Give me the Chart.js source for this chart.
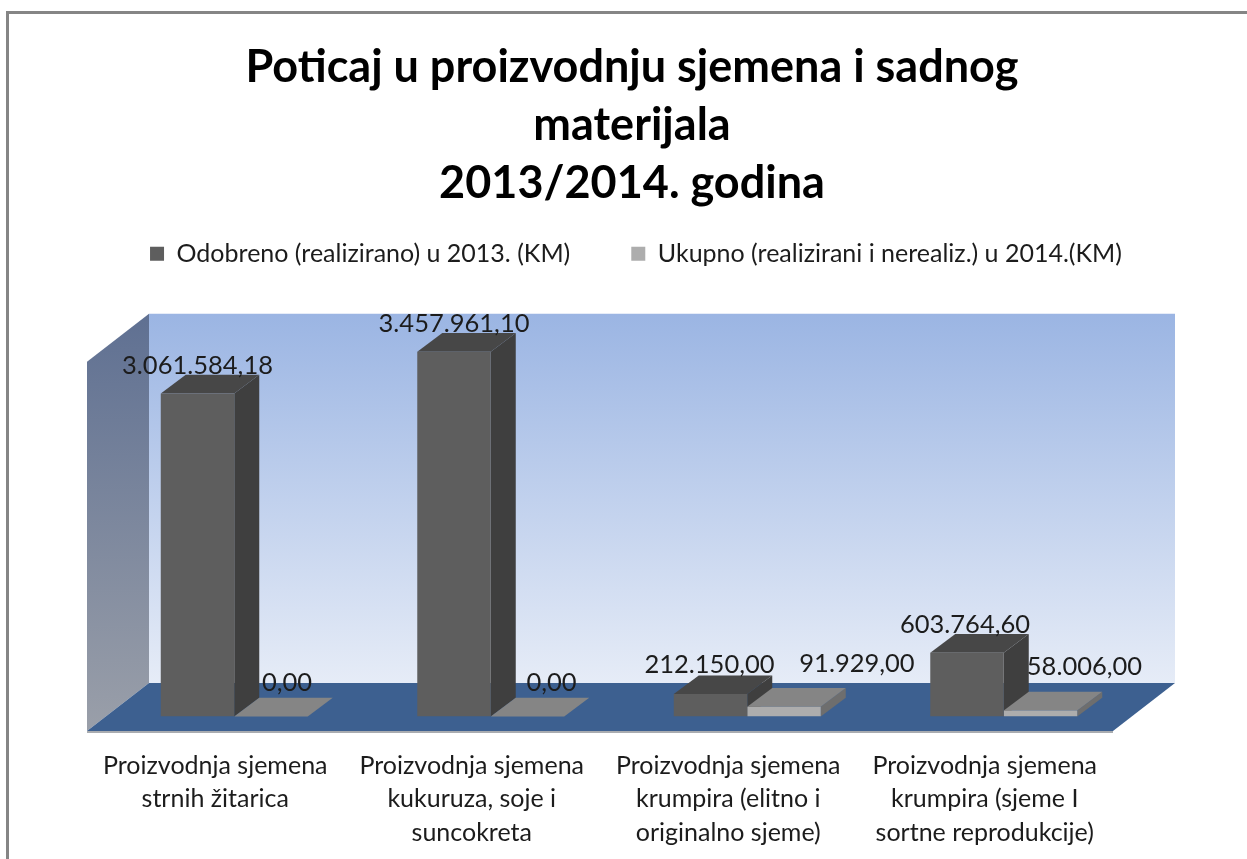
<!DOCTYPE html>
<html>
<head>
<meta charset="utf-8">
<title>Poticaj u proizvodnju sjemena</title>
<script src="https://cdn.jsdelivr.net/npm/chart.js@4"></script>
<style>
    html, body { margin: 0; padding: 0; background: #fff; overflow: hidden; }
    #frame { position: absolute; left: 6px; top: 11px; right: 0; bottom: 0;
             border-left: 3px solid #858585; border-top: 3px solid #858585; }
    canvas { position: absolute; left: 0; top: 0; }
</style>
</head>
<body>
<div id="frame"></div>
<canvas id="chart" width="1247" height="859"></canvas>
<script>
const titleLines = [
    "Poticaj u proizvodnju sjemena i sadnog",
    "materijala",
    "2013/2014. godina"
];
const categories = [
    ["Proizvodnja sjemena", "strnih žitarica"],
    ["Proizvodnja sjemena", "kukuruza, soje i", "suncokreta"],
    ["Proizvodnja sjemena", "krumpira (elitno i", "originalno sjeme)"],
    ["Proizvodnja sjemena", "krumpira (sjeme I", "sortne reprodukcije)"]
];
const seriesNames = [
    "Odobreno (realizirano) u 2013. (KM)",
    "Ukupno (realizirani i nerealiz.) u 2014.(KM)"
];
const approved2013 = [3061584.18, 3457961.10, 212150.00, 603764.60];
const total2014 = [0, 0, 91929.00, 58006.00];

// top of the 3d walls, on the value axis
const wallMax = 3500000;

// depth of the fake 3d, pixels
const barDepth = { x: 25, y: 18.7 };
const backPlane = { x: 43, y: 33.5 };
const frontPlane = { x: 19, y: 14.5 };

const faceColors = [
    { top: "#474747", side: "#3f3f3f" },
    { top: "#858585", side: "#6e6e6e" }
];

// labels were moved by hand in the original, so they sit off their bars
const labelShift = [
    [{ x: 0, y: 28 }, { x: 0, y: 28 }, { x: -1, y: 29 }, { x: -2, y: 28 }],
    [{ x: 16, y: 34 }, { x: 24, y: 34 }, { x: 73, y: 43 }, { x: 44, y: 44 }]
];

function poly(ctx, color, pts) {
    ctx.fillStyle = color;
    ctx.beginPath();
    pts.forEach((p, i) => i ? ctx.lineTo(p[0], p[1]) : ctx.moveTo(p[0], p[1]));
    ctx.closePath();
    ctx.fill();
}

function formatKM(v) {
    return v.toLocaleString("de-DE", { minimumFractionDigits: 2, maximumFractionDigits: 2 });
}

const box3d = {
    id: "box3d",
    afterLayout(chart) {
        chart.legend.left += 4;
        chart.legend.right += 4;
    },
    beforeDatasetsDraw(chart) {
        const ctx = chart.ctx;
        const area = chart.chartArea;
        const y = chart.scales.y;
        const base = y.getPixelForValue(0);
        const top = y.getPixelForValue(wallMax);

        const bl = area.left + backPlane.x, br = area.right + backPlane.x;
        const fl = area.left - frontPlane.x, fr = area.right - frontPlane.x;
        const backBase = base - backPlane.y, backTop = top - backPlane.y;
        const frontBase = base + frontPlane.y, frontTop = top + frontPlane.y;

        // back wall
        const wall = ctx.createLinearGradient(0, backTop, 0, backBase);
        wall.addColorStop(0, "#9bb5e3");
        wall.addColorStop(1, "#e6ecf7");
        poly(ctx, wall, [[bl, backTop], [br, backTop], [br, backBase], [bl, backBase]]);

        // left wall
        const side = ctx.createLinearGradient(0, backTop, 0, frontBase);
        side.addColorStop(0, "#5f7092");
        side.addColorStop(1, "#9a9fa9");
        poly(ctx, side, [[fl, frontTop], [bl, backTop], [bl, backBase], [fl, frontBase]]);

        // floor
        poly(ctx, "#a9acb0", [[fl, frontBase], [fr, frontBase], [fr, frontBase + 2], [fl, frontBase + 2]]);
        poly(ctx, "#3d6090", [[bl, backBase], [br, backBase], [fr, frontBase], [fl, frontBase]]);

        // top and side of every bar
        chart.data.datasets.forEach((ds, i) => {
            chart.getDatasetMeta(i).data.forEach(bar => {
                const x0 = bar.x - bar.width / 2, x1 = bar.x + bar.width / 2;
                const dx = barDepth.x, dy = barDepth.y;
                poly(ctx, faceColors[i].side, [[x1, bar.y], [x1 + dx, bar.y - dy], [x1 + dx, bar.base - dy], [x1, bar.base]]);
                poly(ctx, faceColors[i].top, [[x0, bar.y], [x0 + dx, bar.y - dy], [x1 + dx, bar.y - dy], [x1, bar.y]]);
            });
        });
    },
    afterDatasetsDraw(chart) {
        const ctx = chart.ctx;
        ctx.save();
        ctx.font = "25.5px Lato";
        ctx.fillStyle = "#1c1c1c";
        ctx.textAlign = "center";
        ctx.textBaseline = "middle";
        chart.data.datasets.forEach((ds, i) => {
            chart.getDatasetMeta(i).data.forEach((bar, j) => {
                const s = labelShift[i][j];
                ctx.fillText(formatKM(ds.data[j]), bar.x + s.x, bar.y - s.y);
            });
        });
        ctx.restore();
    }
};

new Chart(document.getElementById("chart"), {
    type: "bar",
    plugins: [box3d],
    data: {
        labels: categories,
        datasets: [
            { label: seriesNames[0], data: approved2013, backgroundColor: "#5e5e5e" },
            { label: seriesNames[1], data: total2014, backgroundColor: "#adadad" }
        ]
    },
    options: {
        responsive: false,
        animation: false,
        categoryPercentage: 0.573,
        barPercentage: 1,
        layout: { padding: { left: 17, right: 0, top: 0, bottom: 0 } },
        plugins: {
            title: {
                display: true,
                text: titleLines,
                color: "#000",
                font: { family: "Lato", size: 45, weight: "bold", lineHeight: 1.28 },
                padding: { top: 39, bottom: 0.5 }
            },
            legend: {
                display: true,
                position: "top",
                labels: {
                    color: "#1c1c1c",
                    font: { family: "Lato", size: 25 },
                    boxWidth: 14,
                    boxHeight: 14,
                    padding: 29,
                    generateLabels(chart) {
                        const items = Chart.defaults.plugins.legend.labels.generateLabels(chart);
                        items[0].text = items[0].text + "     ";
                        return items;
                    }
                }
            },
            tooltip: { enabled: false }
        },
        scales: {
            x: {
                grid: { display: false },
                border: { display: false },
                afterFit(scale) { scale.height = 142.5; },
                ticks: {
                    color: "#1c1c1c",
                    font: { family: "Lato", size: 25, lineHeight: 1.33 },
                    padding: 25,
                    labelOffset: -19,
                    autoSkip: false,
                    maxRotation: 0
                }
            },
            y: {
                min: 0,
                max: 4173000,
                grid: { display: false },
                border: { display: false },
                ticks: { display: false },
                afterFit(scale) { scale.width = 89; }
            },
            yRight: {
                position: "right",
                grid: { display: false },
                border: { display: false },
                ticks: { display: false },
                afterFit(scale) { scale.width = 115; }
            }
        }
    }
});
</script>
</body>
</html>
